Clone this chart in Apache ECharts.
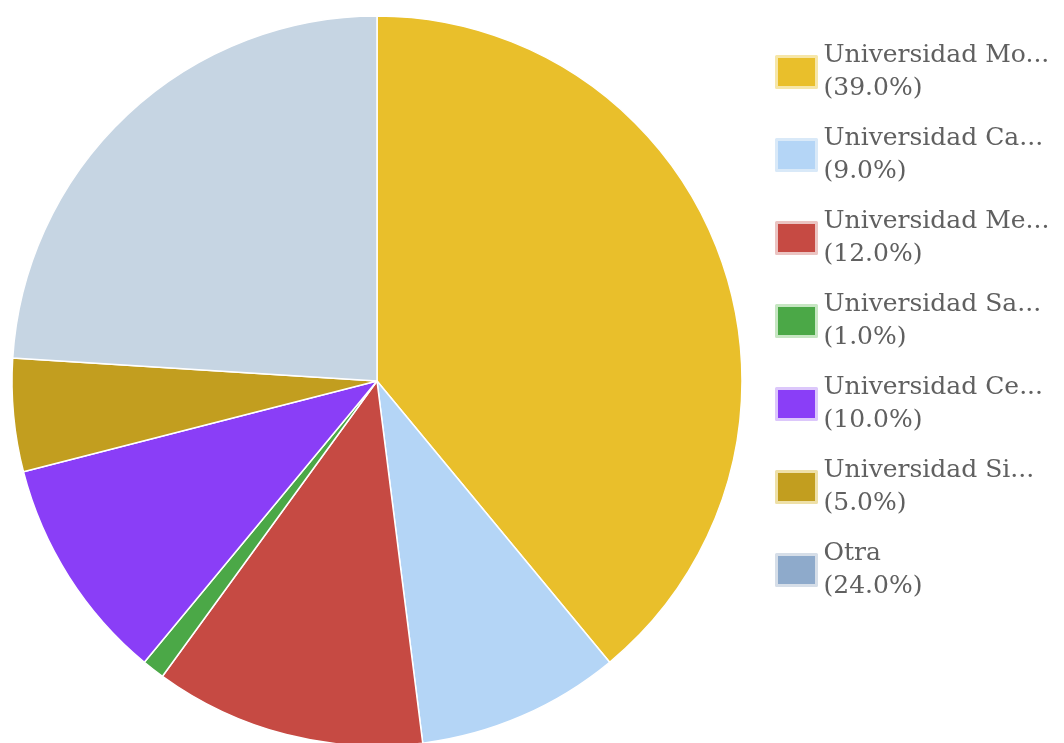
<!DOCTYPE html>
<html>
<head>
<meta charset="utf-8">
<script src="https://cdn.jsdelivr.net/npm/echarts@6/dist/echarts.min.js"></script>
<style>
  html, body { margin: 0; padding: 0; background: #ffffff; }
  #chart { width: 1064px; height: 743px; }
</style>
</head>
<body>
<div id="chart"></div>
<script>
// Share of respondents by university
const names = [
  'Universidad Mo...',
  'Universidad Ca...',
  'Universidad Me...',
  'Universidad Sa...',
  'Universidad Ce...',
  'Universidad Si...',
  'Otra'
];
const values = [39, 9, 12, 1, 10, 5, 24];
const sliceColors = ['#E9BF2B', '#B4D5F6', '#C64A43', '#4BA847', '#8A3EF7', '#C29E1F', '#C6D5E3'];
const legendColors = ['#E9BF2B', '#B4D5F6', '#C64A43', '#4BA847', '#8A3EF7', '#C29E1F', '#8EAACB'];
const legendBorders = ['#F6E6A8', '#D9E9F8', '#EBC4C2', '#C6E6C2', '#DCC7FB', '#EEE0A8', '#D6DEE8'];

const total = values.reduce((a, b) => a + b, 0);
const pctByName = {};
names.forEach((n, i) => { pctByName[n] = (values[i] / total * 100).toFixed(1) + '%'; });

const chart = echarts.init(document.getElementById('chart'), null, { renderer: 'canvas' });
chart.setOption({
  animation: false,
  backgroundColor: '#ffffff',
  legend: {
    orient: 'vertical',
    left: 770,
    top: 34,
    itemWidth: 40,
    itemHeight: 31,
    itemGap: 17,
    icon: 'rect',
    selectedMode: false,
    data: names.map((n, i) => ({
      name: n,
      itemStyle: { color: legendColors[i], borderColor: legendBorders[i], borderWidth: 3 }
    })),
    formatter: n => n + '\n(' + pctByName[n] + ')',
    textStyle: {
      fontFamily: 'DejaVu Serif',
      fontSize: 25,
      lineHeight: 33,
      color: '#606060',
      padding: [0, 0, 0, 2]
    }
  },
  series: [{
    type: 'pie',
    center: [377, 381],
    radius: 365,
    startAngle: 90,
    clockwise: true,
    label: { show: false },
    labelLine: { show: false },
    emphasis: { disabled: true },
    itemStyle: { borderColor: '#ffffff', borderWidth: 1.5 },
    data: names.map((n, i) => ({
      name: n,
      value: values[i],
      itemStyle: { color: sliceColors[i] }
    }))
  }]
});
</script>
</body>
</html>
